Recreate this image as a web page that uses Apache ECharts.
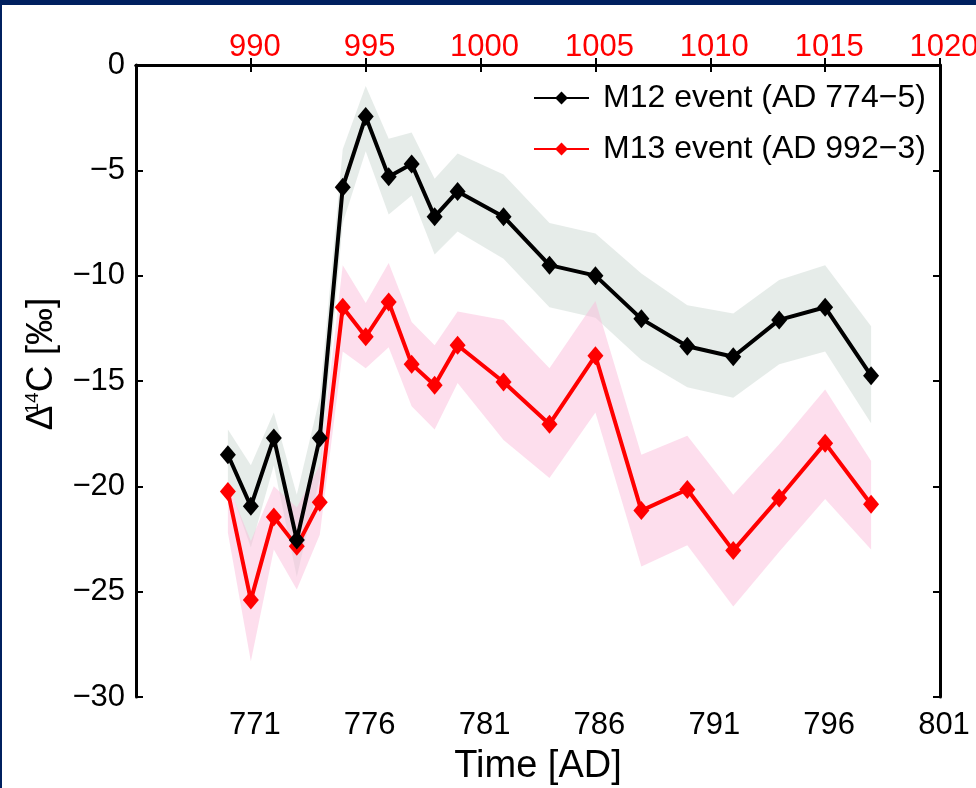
<!DOCTYPE html>
<html>
<head>
<meta charset="utf-8">
<title>Δ14C of the M12 and M13 events</title>
<script src="https://cdn.jsdelivr.net/npm/echarts@6/dist/echarts.min.js"></script>
<style>
  html, body { margin: 0; padding: 0; background: #fff; }
  #frame { position: relative; width: 976px; height: 788px; overflow: hidden; background: #fff; }
  #chart { position: absolute; left: 0; top: 0; width: 976px; height: 788px; }
  .edge { position: absolute; background: #00205f; }
</style>
</head>
<body>
<div id="frame">
  <div id="chart"></div>
  <div class="edge" style="left:0;top:0;width:976px;height:5px"></div>
  <div class="edge" style="left:0;top:0;width:2px;height:788px"></div>
</div>
<script>
// M12 event (AD 774-5): years on the bottom axis
const m12Years  = [770, 771, 772, 773, 774, 775, 776, 777, 778, 779, 780, 782, 784, 786, 788, 790, 792, 794, 796, 798];
const m12Values = [-18.5, -20.95, -17.7, -22.55, -17.7, -5.8, -2.45, -5.3, -4.7, -7.2, -6.0, -7.2, -9.5, -10.0, -12.05, -13.35, -13.85, -12.1, -11.5, -14.75];
const m12Upper  = [-17.3, -19.0, -16.5, -20.4, -15.8, -4.0, -1.0, -3.5, -3.2, -5.4, -4.2, -5.2, -7.5, -8.0, -9.9, -11.4, -11.8, -10.2, -9.5, -12.4];
const m12Lower  = [-19.8, -22.9, -19.0, -24.3, -19.6, -7.5, -4.1, -7.1, -6.2, -9.0, -7.9, -9.2, -11.5, -12.0, -14.0, -15.3, -15.8, -14.2, -13.6, -17.0];

// M13 event (AD 992-3): years on the top axis
const m13Years  = [989, 990, 991, 992, 993, 994, 995, 996, 997, 998, 999, 1001, 1003, 1005, 1007, 1009, 1011, 1013, 1015, 1017];
const m13Values = [-20.25, -25.4, -21.45, -22.85, -20.75, -11.5, -12.9, -11.25, -14.2, -15.2, -13.3, -15.05, -17.05, -13.8, -21.15, -20.15, -23.05, -20.55, -17.95, -20.85];
const m13Upper  = [-19.9, -22.6, -20.0, -21.0, -19.0, -9.5, -11.3, -9.4, -12.2, -13.3, -11.7, -12.1, -14.4, -11.2, -18.5, -17.6, -20.4, -18.0, -15.4, -18.8];
const m13Lower  = [-22.2, -28.3, -23.0, -24.9, -22.3, -13.6, -14.4, -13.4, -16.2, -17.3, -15.1, -17.8, -19.6, -16.5, -23.8, -22.8, -25.7, -23.1, -20.6, -23.0];

// Axis ranges and tick spacing
const bottomRange = [766, 801];
const topRange    = [985, 1020];
const yRange      = [-30, 0];
const tickStep    = 5;

const seriesNames = ['M12 event (AD 774\u22125)', 'M13 event (AD 992\u22123)'];

const font = "'Liberation Sans', Arial, Helvetica, sans-serif";

const pairs = (xs, ys) => xs.map((x, i) => [x, ys[i]]);

// Uncertainty envelope drawn as one polygon through the axis scales
function bandSeries(xs, upper, lower, xAxisIndex, fill) {
  return {
    type: 'custom',
    xAxisIndex: xAxisIndex,
    yAxisIndex: 0,
    silent: true,
    z: 1,
    data: xs.map((x, i) => [x, lower[i], upper[i]]),
    encode: { x: 0, y: [1, 2] },
    renderItem: function (params, api) {
      if (params.dataIndex !== 0) return null;
      const pts = [];
      for (let i = 0; i < xs.length; i++) pts.push(api.coord([xs[i], upper[i]]));
      for (let i = xs.length - 1; i >= 0; i--) pts.push(api.coord([xs[i], lower[i]]));
      return { type: 'polygon', shape: { points: pts }, style: { fill: fill } };
    }
  };
}

function lineSeries(name, data, xAxisIndex, color, z) {
  return {
    name: name,
    type: 'line',
    xAxisIndex: xAxisIndex,
    yAxisIndex: 0,
    data: data,
    z: z,
    symbol: 'diamond',
    symbolSize: [16, 19],
    showSymbol: true,
    lineStyle: { color: color, width: 4 },
    itemStyle: { color: color },
    emphasis: { disabled: true },
    animation: false
  };
}

const axisLineStyle = { show: true, lineStyle: { color: '#000', width: 3 } };
const tickStyle = { show: true, inside: true, length: 7, lineStyle: { color: '#000', width: 2 } };

const chart = echarts.init(document.getElementById('chart'), null, { renderer: 'canvas' });

chart.setOption({
  animation: false,
  backgroundColor: 'transparent',
  grid: { left: 136, right: 36, top: 65, bottom: 91, containLabel: false, outerBoundsMode: 'none' },
  legend: {
    data: seriesNames,
    orient: 'vertical',
    left: 528,
    top: 75,
    itemWidth: 55,
    itemHeight: 16,
    itemGap: 15,
    selectedMode: false,
    textStyle: { fontFamily: font, fontSize: 32, color: '#000', lineHeight: 36, padding: [0, 0, 0, 9] }
  },
  xAxis: [
    {
      type: 'value',
      position: 'bottom',
      min: bottomRange[0],
      max: bottomRange[1],
      interval: tickStep,
      name: 'Time [AD]',
      nameLocation: 'middle',
      nameGap: 51,
      nameTextStyle: { fontFamily: font, fontSize: 38, color: '#000' },
      axisLine: axisLineStyle,
      axisTick: tickStyle,
      splitLine: { show: false },
      axisLabel: {
        showMinLabel: false,
        fontFamily: font, fontSize: 31, color: '#000',
        margin: 13, padding: [0, 0, 0, 8],
        formatter: v => String(v)
      }
    },
    {
      type: 'value',
      position: 'top',
      min: topRange[0],
      max: topRange[1],
      interval: tickStep,
      axisLine: axisLineStyle,
      axisTick: tickStyle,
      splitLine: { show: false },
      axisLabel: {
        showMinLabel: false,
        fontFamily: font, fontSize: 31, color: '#ff0000',
        margin: 2, padding: [0, 0, 0, 8],
        formatter: v => String(v)
      }
    }
  ],
  yAxis: [
    {
      type: 'value',
      position: 'left',
      min: yRange[0],
      max: yRange[1],
      interval: tickStep,
      name: '{d|\u0394}{s|14}{d|C [\u2030]}',
      nameLocation: 'middle',
      nameRotate: 90,
      nameGap: 76,
      nameTextStyle: {
        padding: [0, 0, 0, 34],
        rich: {
          d: { fontFamily: font, fontSize: 37, color: '#000' },
          s: { fontFamily: font, fontSize: 19, color: '#000', verticalAlign: 'top', padding: [0, 0, 14, -8] }
        }
      },
      axisLine: axisLineStyle,
      axisTick: tickStyle,
      splitLine: { show: false },
      axisLabel: {
        fontFamily: font, fontSize: 31, color: '#000', margin: 11,
        formatter: v => String(v).replace('-', '\u2212')
      }
    },
    {
      type: 'value',
      position: 'right',
      min: yRange[0],
      max: yRange[1],
      interval: tickStep,
      axisLine: axisLineStyle,
      axisTick: tickStyle,
      splitLine: { show: false },
      axisLabel: { show: false }
    }
  ],
  series: [
    bandSeries(m12Years, m12Upper, m12Lower, 0, 'rgba(205,217,212,0.5)'),
    bandSeries(m13Years, m13Upper, m13Lower, 1, 'rgba(251,190,220,0.5)'),
    lineSeries(seriesNames[1], pairs(m13Years, m13Values), 1, '#ff0000', 3),
    lineSeries(seriesNames[0], pairs(m12Years, m12Values), 0, '#000000', 4)
  ]
});
</script>
</body>
</html>
